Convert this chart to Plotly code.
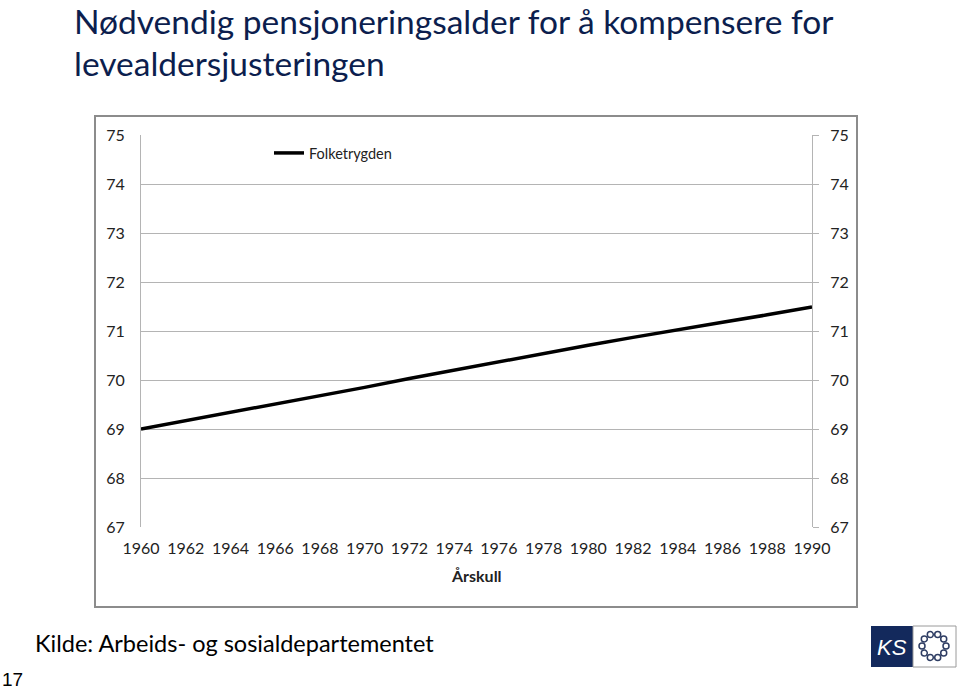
import math
import plotly.graph_objects as go

# ---- data ----
years = [1960, 1962, 1964, 1966, 1968, 1970, 1972, 1974, 1976, 1978,
         1980, 1982, 1984, 1986, 1988, 1990]
folketrygden = [69.0, 69.17, 69.33, 69.5, 69.67, 69.85, 70.03, 70.2, 70.37, 70.55,
                70.71, 70.87, 71.03, 71.18, 71.33, 71.49]
y_ticks = [67, 68, 69, 70, 71, 72, 73, 74, 75]
series_name = "Folketrygden"
x_title = "Årskull"
title_l1 = "Nødvendig pensjoneringsalder for å kompensere for"
title_l2 = "levealdersjusteringen"
source = "Kilde: Arbeids- og sosialdepartementet"
page_no = "17"

W, H = 960, 689
L, R, T, B = 141, 812, 135, 527  # plot area in px
PW, PH = R - L, B - T


def px(x):
    return (x - L) / PW


def py(y):
    return (B - y) / PH


FONT = "Lato"
GRID = "#b4b4b4"
TXT = "#222222"

fig = go.Figure()
fig.add_trace(go.Scatter(x=years, y=folketrygden, mode="lines", name=series_name,
                         line=dict(color="black", width=3.5)))
fig.add_trace(go.Scatter(x=years, y=folketrygden, mode="lines", yaxis="y2",
                         showlegend=False, hoverinfo="skip",
                         line=dict(color="rgba(0,0,0,0)", width=0)))

shapes = [
    # chart border
    dict(type="rect", xref="paper", yref="paper", x0=px(95), x1=px(857), y0=py(607), y1=py(116),
         line=dict(color="#8c8c8c", width=2), fillcolor="rgba(0,0,0,0)", layer="below"),
    # KS logo
    dict(type="rect", xref="paper", yref="paper", x0=px(871), x1=px(913), y0=py(667), y1=py(626),
         line=dict(width=0), fillcolor="#13295c"),
    dict(type="rect", xref="paper", yref="paper", x0=px(913), x1=px(956), y0=py(667), y1=py(626),
         line=dict(color="#9a9a9a", width=1), fillcolor="white"),
]
cx, cy, rr = 934, 646, 12
for k in range(10):
    a = 2 * math.pi * k / 10
    x = cx + rr * math.cos(a)
    y = cy + rr * math.sin(a)
    shapes.append(dict(type="circle", xref="paper", yref="paper",
                       x0=px(x - 3), x1=px(x + 3), y0=py(y + 3), y1=py(y - 3),
                       line=dict(color="#2e3d63", width=1.5), fillcolor="rgba(0,0,0,0)"))

annotations = [
    dict(text=title_l1, xref="paper", yref="paper", x=px(73), y=py(0), xanchor="left", yanchor="top",
         showarrow=False, borderpad=0, font=dict(family=FONT, size=33.5, color="#0c1e4e")),
    dict(text=title_l2, xref="paper", yref="paper", x=px(73), y=py(42), xanchor="left", yanchor="top",
         showarrow=False, borderpad=0, font=dict(family=FONT, size=33.5, color="#0c1e4e")),
    dict(text="<b>" + x_title + "</b>", xref="paper", yref="paper", x=0.5, y=py(575),
         xanchor="center", yanchor="middle", showarrow=False,
         font=dict(family=FONT, size=16, color=TXT)),
    dict(text=source, xref="paper", yref="paper", x=px(33), y=py(643), xanchor="left",
         yanchor="middle", showarrow=False, font=dict(family=FONT, size=23.5, color="black")),
    dict(text=page_no, xref="paper", yref="paper", x=px(0), y=py(679), xanchor="left",
         yanchor="middle", showarrow=False, font=dict(family="Liberation Sans", size=19, color="black")),
    dict(text="<i>KS</i>", xref="paper", yref="paper", x=px(892), y=py(647), xanchor="center",
         yanchor="middle", showarrow=False, font=dict(family="Liberation Sans", size=22, color="white")),
]

fig.update_layout(
    width=W, height=H,
    margin=dict(l=L, r=W - R, t=T, b=H - B),
    paper_bgcolor="white", plot_bgcolor="white",
    font=dict(family=FONT, color=TXT),
    showlegend=True,
    legend=dict(x=px(269), y=py(153), xanchor="left", yanchor="middle",
                bgcolor="rgba(0,0,0,0)", font=dict(family=FONT, size=14.5, color=TXT)),
    xaxis=dict(range=[1960, 1990], tickmode="array", tickvals=years,
               ticktext=[str(y) for y in years], showgrid=False, zeroline=False,
               showline=False, ticks="", tickfont=dict(family=FONT, size=16, color=TXT),
               ticklabelstandoff=10, fixedrange=True),
    yaxis=dict(range=[67, 75], tickvals=y_ticks, showgrid=True, gridcolor=GRID, gridwidth=1,
               zeroline=False, showline=True, linecolor=GRID, linewidth=1, ticks="",
               tickfont=dict(family=FONT, size=16, color=TXT), ticklabelstandoff=12),
    yaxis2=dict(range=[67, 75], tickvals=y_ticks, overlaying="y", side="right",
                showgrid=False, zeroline=False, showline=True, linecolor=GRID, linewidth=1,
                ticks="outside", ticklen=6, tickcolor=GRID,
                tickfont=dict(family=FONT, size=16, color=TXT), ticklabelstandoff=8),
    shapes=shapes,
    annotations=annotations,
)

fig.write_html("out.html")
